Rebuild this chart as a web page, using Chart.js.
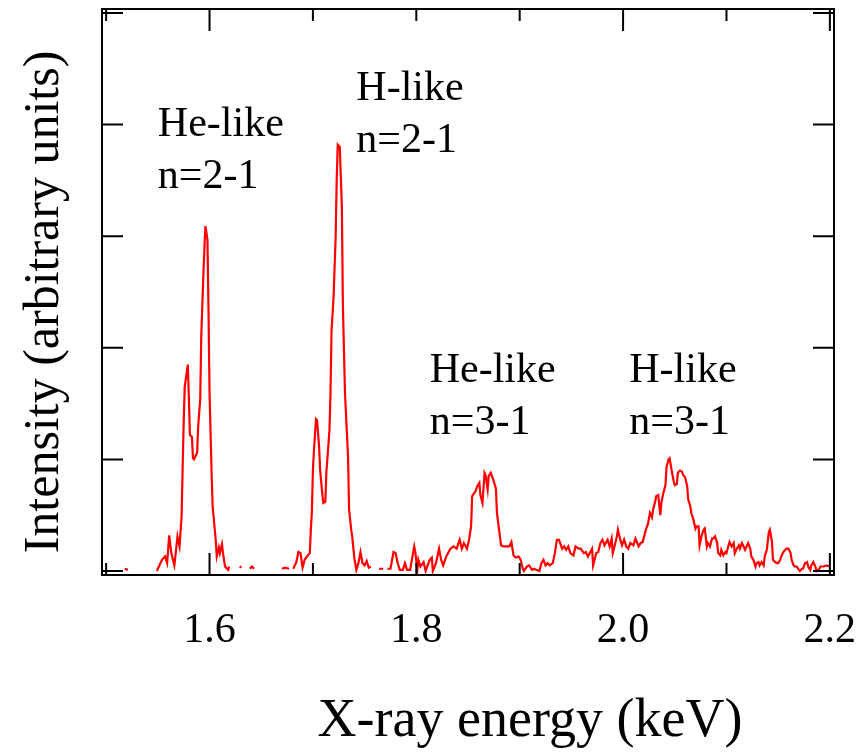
<!DOCTYPE html>
<html lang="en">
<head>
<meta charset="UTF-8">
<title>X-ray spectrum</title>
<script src="https://cdn.jsdelivr.net/npm/chart.js@4.4.0/dist/chart.umd.min.js"></script>
<style>
  body { margin: 0; background: #fff; }
  #wrap { width: 856px; height: 752px; }
</style>
</head>
<body>
<div id="wrap"><canvas id="spec"></canvas></div>
<script>
// photon energy (keV) and intensity (arbitrary units); null = no counts, line broken
var energy = [
  1.518, 1.521, 1.530, 1.549, 1.554, 1.557, 1.559, 1.561, 1.563, 1.566, 1.568, 1.569, 1.571, 1.573,
  1.574, 1.575, 1.576, 1.579, 1.580, 1.581, 1.583, 1.584, 1.585, 1.588, 1.589, 1.590, 1.591, 1.592,
  1.594, 1.595, 1.596, 1.598, 1.599, 1.600, 1.602, 1.603, 1.606, 1.607, 1.609, 1.610, 1.612, 1.613,
  1.615, 1.618, 1.619, 1.625, 1.629, 1.631, 1.636, 1.639, 1.641, 1.643, 1.660, 1.670, 1.673, 1.677,
  1.679, 1.681, 1.684, 1.686, 1.688, 1.690, 1.692, 1.695, 1.697, 1.698, 1.699, 1.700, 1.701, 1.703,
  1.704, 1.706, 1.707, 1.709, 1.710, 1.712, 1.713, 1.716, 1.717, 1.718, 1.720, 1.722, 1.723, 1.724,
  1.726, 1.728, 1.729, 1.731, 1.734, 1.735, 1.737, 1.738, 1.740, 1.742, 1.744, 1.746, 1.748, 1.750,
  1.752, 1.754, 1.756, 1.760, 1.764, 1.768, 1.770, 1.772, 1.775, 1.778, 1.780, 1.782, 1.784, 1.787,
  1.789, 1.791, 1.794, 1.798, 1.799, 1.801, 1.802, 1.804, 1.807, 1.809, 1.813, 1.815, 1.816, 1.819,
  1.822, 1.824, 1.826, 1.829, 1.833, 1.836, 1.839, 1.842, 1.844, 1.846, 1.849, 1.851, 1.853, 1.854,
  1.857, 1.859, 1.861, 1.862, 1.864, 1.866, 1.867, 1.869, 1.870, 1.872, 1.874, 1.877, 1.878, 1.880,
  1.882, 1.884, 1.887, 1.890, 1.892, 1.894, 1.896, 1.899, 1.901, 1.903, 1.904, 1.907, 1.909, 1.912,
  1.914, 1.916, 1.919, 1.921, 1.923, 1.925, 1.927, 1.929, 1.932, 1.934, 1.936, 1.938, 1.941, 1.943,
  1.945, 1.947, 1.949, 1.952, 1.954, 1.957, 1.959, 1.962, 1.964, 1.966, 1.970, 1.971, 1.974, 1.976,
  1.978, 1.980, 1.982, 1.985, 1.987, 1.989, 1.990, 1.992, 1.994, 1.995, 1.997, 1.999, 2.001, 2.003,
  2.005, 2.007, 2.010, 2.012, 2.015, 2.017, 2.019, 2.022, 2.024, 2.026, 2.028, 2.029, 2.031, 2.032,
  2.034, 2.036, 2.037, 2.039, 2.041, 2.042, 2.044, 2.045, 2.047, 2.049, 2.050, 2.052, 2.053, 2.055,
  2.057, 2.058, 2.060, 2.062, 2.063, 2.065, 2.066, 2.068, 2.070, 2.071, 2.073, 2.074, 2.076, 2.078,
  2.079, 2.081, 2.082, 2.084, 2.086, 2.087, 2.089, 2.091, 2.092, 2.094, 2.095, 2.097, 2.099, 2.100,
  2.102, 2.103, 2.105, 2.107, 2.108, 2.110, 2.112, 2.113, 2.115, 2.116, 2.118, 2.120, 2.121, 2.123,
  2.124, 2.126, 2.128, 2.129, 2.131, 2.132, 2.134, 2.136, 2.137, 2.139, 2.141, 2.142, 2.144, 2.145,
  2.147, 2.149, 2.150, 2.152, 2.153, 2.155, 2.157, 2.158, 2.160, 2.162, 2.163, 2.165, 2.166, 2.168,
  2.170, 2.171, 2.173, 2.174, 2.176, 2.178, 2.179, 2.181, 2.182, 2.184, 2.186, 2.187, 2.189, 2.191,
  2.194, 2.197, 2.200
];
var intensity = [
  0.02, 0.01, null, 0.00, 0.10, 0.13, 0.07, 0.32, 0.16, 0.05, 0.22, 0.31, 0.22, 0.49,
  0.93, 1.33, 1.65, 1.85, 1.56, 1.22, 1.20, 1.01, 1.00, 1.06, 1.29, 1.42, 1.53, 2.10,
  2.64, 2.88, 3.09, 2.97, 2.35, 1.60, 0.88, 0.58, 0.28, 0.13, 0.21, 0.16, 0.24, 0.16,
  0.04, 0.01, 0.04, null, 0.03, 0.04, null, 0.02, 0.04, 0.02, null, 0.02, 0.03, 0.02,
  null, 0.02, 0.08, 0.17, 0.16, 0.03, 0.10, 0.14, 0.16, 0.37, 0.53, 0.90, 1.08, 1.36,
  1.35, 1.11, 0.90, 0.70, 0.61, 0.62, 0.88, 1.26, 1.59, 2.15, 2.46, 3.00, 3.50, 3.82,
  3.80, 3.26, 2.37, 1.60, 1.02, 0.55, 0.37, 0.31, 0.12, 0.01, 0.07, 0.17, 0.07, 0.05,
  0.09, 0.03, 0.04, null, 0.02, 0.02, null, 0.02, 0.02, 0.17, 0.16, 0.07, 0.01, 0.01,
  0.07, 0.01, 0.01, 0.22, 0.17, 0.01, 0.10, 0.04, 0.08, 0.00, 0.10, 0.12, 0.00, 0.07,
  0.20, 0.10, 0.05, 0.13, 0.20, 0.22, 0.20, 0.28, 0.20, 0.25, 0.20, 0.28, 0.40, 0.67,
  0.71, 0.76, 0.79, 0.68, 0.61, 0.88, 0.86, 0.73, 0.85, 0.88, 0.83, 0.74, 0.52, 0.37,
  0.23, 0.22, 0.22, 0.22, 0.26, 0.14, 0.12, 0.13, 0.10, 0.02, 0.00, 0.04, 0.05, 0.01,
  0.02, 0.01, 0.00, 0.07, 0.10, 0.05, 0.07, 0.05, 0.07, 0.16, 0.28, 0.28, 0.20, 0.22,
  0.19, 0.22, 0.16, 0.14, 0.22, 0.20, 0.20, 0.16, 0.17, 0.13, 0.20, 0.05, 0.16, 0.17,
  0.25, 0.28, 0.23, 0.28, 0.22, 0.29, 0.16, 0.23, 0.31, 0.37, 0.29, 0.23, 0.28, 0.22,
  0.20, 0.25, 0.23, 0.29, 0.22, 0.25, 0.26, 0.37, 0.42, 0.52, 0.48, 0.55, 0.62, 0.67,
  0.68, 0.50, 0.61, 0.70, 0.77, 0.93, 1.00, 1.01, 0.90, 0.80, 0.77, 0.78, 0.88, 0.90,
  0.89, 0.86, 0.84, 0.76, 0.64, 0.58, 0.52, 0.46, 0.38, 0.40, 0.40, 0.23, 0.32, 0.37,
  0.38, 0.22, 0.25, 0.22, 0.29, 0.29, 0.31, 0.25, 0.16, 0.14, 0.19, 0.14, 0.17, 0.16,
  0.23, 0.26, 0.22, 0.25, 0.16, 0.20, 0.23, 0.20, 0.25, 0.23, 0.19, 0.23, 0.25, 0.20,
  0.13, 0.10, 0.04, 0.07, 0.08, 0.05, 0.08, 0.05, 0.13, 0.19, 0.35, 0.37, 0.26, 0.10,
  0.08, 0.07, 0.07, 0.10, 0.13, 0.17, 0.19, 0.20, 0.20, 0.16, 0.10, 0.05, 0.04, 0.04,
  0.01, 0.00, 0.02, 0.02, 0.07, 0.08, 0.04, 0.01, 0.05, 0.08, 0.04, 0.00, 0.01, 0.04,
  0.04, 0.05, 0.04
];

// axis ticks
var xLabelTicks = [1.6, 1.8, 2.0, 2.2];
var xLongTicks = [1.6, 2.0, 2.2];
var xShortTicks = [1.5, 1.7, 1.8, 1.9, 2.1];
var yTicks = [0, 1, 2, 3, 4, 5];

// line labels, anchored at (energy, intensity) of the first baseline
var peakNames = [['He-like', 'n=2-1'], ['H-like', 'n=2-1'], ['He-like', 'n=3-1'], ['H-like', 'n=3-1']];
var peakLabelE = [1.550, 1.742, 1.813, 2.006];
var peakLabelI = [3.90, 4.22, 1.69, 1.69];

var points = energy.map(function (e, i) { return { x: e, y: intensity[i] }; });

var serif = '"Liberation Serif", "DejaVu Serif", serif';

var framePlugin = {
  id: 'frame',
  afterDatasetsDraw: function (chart) {
    var ctx = chart.ctx, a = chart.chartArea;
    var xs = chart.scales.x, ys = chart.scales.y;
    ctx.save();
    ctx.strokeStyle = '#000';
    ctx.lineWidth = 2;
    ctx.beginPath();
    function vTick(v, len) {
      var px = xs.getPixelForValue(v);
      ctx.moveTo(px, a.bottom); ctx.lineTo(px, a.bottom - len);
      ctx.moveTo(px, a.top); ctx.lineTo(px, a.top + len);
    }
    xLongTicks.forEach(function (v) { vTick(v, 22); });
    xShortTicks.forEach(function (v) { vTick(v, 12); });
    yTicks.forEach(function (v) {
      var py = ys.getPixelForValue(v);
      ctx.moveTo(a.left, py); ctx.lineTo(a.left + 21, py);
      ctx.moveTo(a.right, py); ctx.lineTo(a.right - 21, py);
    });
    ctx.stroke();
    ctx.strokeRect(a.left, a.top, a.right - a.left, a.bottom - a.top);

    // peak labels
    ctx.fillStyle = '#000';
    ctx.font = '42px ' + serif;
    ctx.textAlign = 'left';
    ctx.textBaseline = 'alphabetic';
    peakNames.forEach(function (lines, i) {
      var px = xs.getPixelForValue(peakLabelE[i]);
      var py = ys.getPixelForValue(peakLabelI[i]);
      lines.forEach(function (t, j) { ctx.fillText(t, px, py + j * 52); });
    });

    // axis titles
    ctx.textAlign = 'center';
    ctx.font = '54px ' + serif;
    ctx.fillText('X-ray energy (keV)', 530, 736);
    ctx.save();
    ctx.translate(58, 302);
    ctx.rotate(-Math.PI / 2);
    ctx.font = '50px ' + serif;
    ctx.fillText('Intensity (arbitrary units)', 0, 0);
    ctx.restore();
    ctx.restore();
  }
};

new Chart(document.getElementById('spec'), {
  type: 'line',
  data: {
    datasets: [{
      data: points,
      borderColor: '#ff0000',
      borderWidth: 2.2,
      pointRadius: 0,
      tension: 0,
      spanGaps: false,
      fill: false
    }]
  },
  options: {
    responsive: true,
    maintainAspectRatio: false,
    animation: false,
    devicePixelRatio: 1,
    layout: { padding: { left: 102, right: 22, top: 9, bottom: 0 } },
    plugins: { legend: { display: false }, tooltip: { enabled: false } },
    scales: {
      x: {
        type: 'linear',
        min: 1.496,
        max: 2.204,
        grid: { display: false, drawTicks: false },
        border: { display: false },
        afterBuildTicks: function (scale) {
          scale.ticks = xLabelTicks.map(function (v) { return { value: v }; });
        },
        afterFit: function (scale) {
          scale.height = 177;
          scale.paddingLeft = 0;
          scale.paddingRight = 0;
        },
        ticks: {
          padding: 31,
          maxRotation: 0,
          autoSkip: false,
          color: '#000',
          font: { family: serif, size: 42 },
          callback: function (v) { return Number(v).toFixed(1); }
        }
      },
      y: {
        display: false,
        min: -0.036,
        max: 5.036
      }
    }
  },
  plugins: [framePlugin]
});
</script>
</body>
</html>
